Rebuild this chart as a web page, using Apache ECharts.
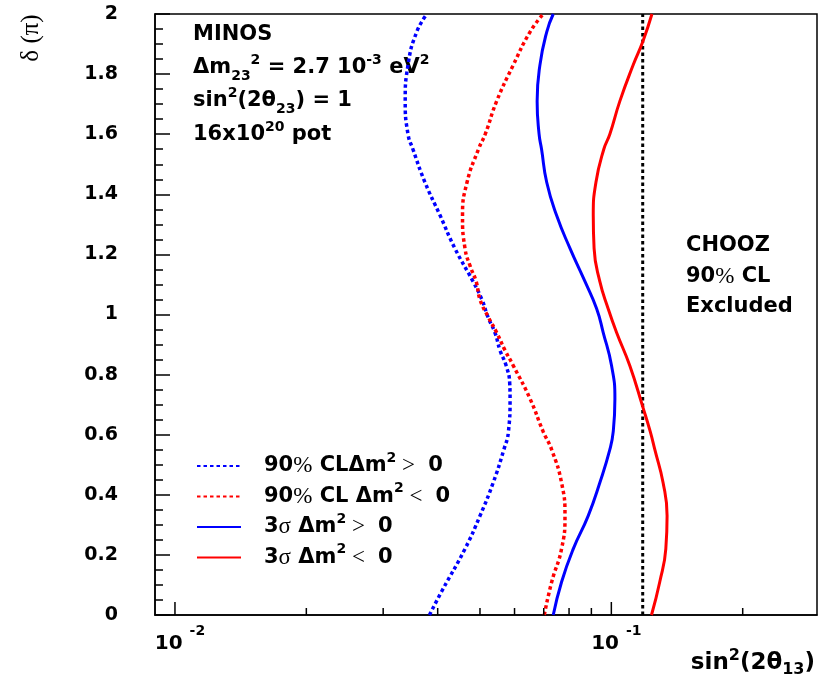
<!DOCTYPE html>
<html>
<head>
<meta charset="utf-8">
<script src="https://cdn.jsdelivr.net/npm/echarts@6/dist/echarts.min.js"></script>
<style>
  html, body { margin: 0; padding: 0; background: #fff; }
  #chart { width: 829px; height: 683px; }
</style>
</head>
<body>
<div id="chart"></div>
<script>
// Contours in the (sin^2(2θ13), δ/π) plane.
// *X arrays hold sin^2(2θ13), *D arrays hold δ in units of π.
const blueDashD = [0.00, 0.08, 0.22, 0.33, 0.44, 0.55, 0.61, 0.72, 0.77, 0.83, 0.88, 0.94, 0.99, 1.05, 1.11, 1.22, 1.33, 1.44, 1.55, 1.60, 1.71, 1.83, 1.94, 2.00];
const blueDashX = [0.0383, 0.0409, 0.0462, 0.0500, 0.0536, 0.0567, 0.0581, 0.0586, 0.0585, 0.0574, 0.0556, 0.0541, 0.0522, 0.0505, 0.0482, 0.0438, 0.0405, 0.0374, 0.0351, 0.0342, 0.0337, 0.0342, 0.0358, 0.0378];

const redDashD = [0.00, 0.11, 0.22, 0.33, 0.44, 0.55, 0.61, 0.72, 0.83, 0.88, 0.94, 0.99, 1.05, 1.11, 1.16, 1.22, 1.33, 1.44, 1.55, 1.60, 1.71, 1.83, 1.94, 2.00];
const redDashX = [0.0702, 0.0730, 0.0769, 0.0783, 0.0769, 0.0730, 0.0698, 0.0651, 0.0596, 0.0571, 0.0546, 0.0523, 0.0500, 0.0490, 0.0475, 0.0462, 0.0456, 0.0467, 0.0496, 0.0514, 0.0546, 0.0596, 0.0651, 0.0698];

const blueSolidD = [0.00, 0.11, 0.22, 0.33, 0.44, 0.55, 0.61, 0.72, 0.83, 0.94, 1.02, 1.11, 1.22, 1.33, 1.44, 1.55, 1.60, 1.71, 1.83, 1.94, 2.00];
const blueSolidX = [0.0736, 0.0769, 0.0818, 0.0885, 0.0941, 0.0992, 0.1010, 0.1019, 0.1001, 0.0958, 0.0925, 0.0870, 0.0804, 0.0749, 0.0711, 0.0692, 0.0683, 0.0676, 0.0686, 0.0711, 0.0736];

const redSolidD = [0.00, 0.11, 0.22, 0.33, 0.44, 0.55, 0.61, 0.69, 0.83, 0.94, 1.02, 1.11, 1.22, 1.33, 1.44, 1.55, 1.60, 1.71, 1.83, 1.91, 2.00];
const redSolidX = [0.1236, 0.1291, 0.1333, 0.1342, 0.1314, 0.1258, 0.1228, 0.1182, 0.1102, 0.1028, 0.0983, 0.0941, 0.0913, 0.0909, 0.0922, 0.0961, 0.0992, 0.1046, 0.1122, 0.1182, 0.1239];

// CHOOZ 90% CL limit
const choozX = [0.118, 0.118];
const choozD = [0, 2];

// Log-axis tick marks
const xMajorTicks = [0.01, 0.1];
const xMinorTicks = [0.02, 0.03, 0.04, 0.05, 0.06, 0.07, 0.08, 0.09, 0.2];

const seriesNames = ['90% CL Δm² > 0', '90% CL Δm² < 0', '3σ Δm² > 0', '3σ Δm² < 0'];

const SANS = 'DejaVu Sans';
const SERIF = 'Liberation Serif';

function richSet(size) {
  return {
    n: { fontFamily: SANS, fontWeight: 'bold', fontSize: size, lineHeight: 30, color: '#000' },
    lead: { fontFamily: SANS, fontWeight: 'bold', fontSize: size, lineHeight: 30, color: '#000', padding: [0, 0, 0, 18] },
    t: { fontFamily: SERIF, fontWeight: 'normal', fontSize: size + 2, lineHeight: 30, color: '#000' },
    sup: { fontFamily: SANS, fontWeight: 'bold', fontSize: Math.round(size * 0.68), verticalAlign: 'top', color: '#000' },
    sub: { fontFamily: SANS, fontWeight: 'bold', fontSize: Math.round(size * 0.68), verticalAlign: 'bottom', color: '#000' }
  };
}

const legendText = {
  '90% CL Δm² > 0': '{lead|90}{t|%}{n| CLΔm}{sup|2}{t| > }{n| 0}',
  '90% CL Δm² < 0': '{lead|90}{t|%}{n| CL Δm}{sup|2}{t| < }{n| 0}',
  '3σ Δm² > 0': '{lead|3}{t|σ}{n| Δm}{sup|2}{t| > }{n| 0}',
  '3σ Δm² < 0': '{lead|3}{t|σ}{n| Δm}{sup|2}{t| < }{n| 0}'
};

function curve(name, xs, ds, color, dashed) {
  return {
    type: 'line',
    name: name,
    data: xs.map((x, i) => [x, ds[i]]),
    smooth: 0.5,
    symbol: 'none',
    lineStyle: { color: color, width: dashed ? 3.5 : 3, type: dashed ? [3.5, 3] : 'solid' },
    itemStyle: { color: color },
    z: 3
  };
}

const chart = echarts.init(document.getElementById('chart'), null, { renderer: 'canvas' });

function textItem(x, y, text, size, align) {
  return {
    type: 'text',
    x: x, y: y,
    style: {
      text: text,
      rich: richSet(size),
      align: align || 'left',
      verticalAlign: 'middle',
      fontFamily: SANS, fontWeight: 'bold', fontSize: size, fill: '#000'
    }
  };
}

chart.setOption({
  animation: false,
  backgroundColor: '#fff',
  grid: {
    left: 155, right: 12, top: 14, bottom: 68,
    show: true, borderColor: '#000', borderWidth: 1.5, backgroundColor: 'transparent',
    containLabel: false, outerBoundsMode: 'none'
  },
  xAxis: {
    type: 'log',
    logBase: 10,
    min: 0.009,
    max: 0.296,
    axisLine: { show: true, lineStyle: { color: '#000', width: 1.5 } },
    axisTick: { show: false },
    minorTick: { show: false },
    splitLine: { show: false },
    axisLabel: {
      margin: 9,
      showMinLabel: false,
      showMaxLabel: false,
      formatter: function (v) {
        const e = Math.log10(v);
        if (Math.abs(e - Math.round(e)) > 1e-6) return '';
        return '{b|10}{e|' + Math.round(e) + '}';
      },
      rich: {
        b: { fontFamily: SANS, fontWeight: 'bold', fontSize: 20, lineHeight: 30, verticalAlign: 'bottom', color: '#000', padding: [0, 0, 0, 10] },
        e: { fontFamily: SANS, fontWeight: 'bold', fontSize: 14, verticalAlign: 'top', color: '#000', padding: [0, 0, 0, 7] }
      }
    }
  },
  yAxis: {
    type: 'value',
    min: 0,
    max: 2,
    interval: 0.2,
    axisLine: { show: true, lineStyle: { color: '#000', width: 1.5 } },
    axisTick: { show: true, inside: true, length: 15, lineStyle: { color: '#000', width: 1.5 } },
    minorTick: { show: true, splitNumber: 4, length: 8, lineStyle: { color: '#000', width: 1.5 } },
    splitLine: { show: false },
    axisLabel: {
      margin: 37,
      fontFamily: SANS, fontWeight: 'bold', fontSize: 19, color: '#000',
      formatter: function (v) { return String(Math.round(v * 10) / 10); }
    }
  },
  legend: {
    orient: 'vertical',
    left: 196,
    top: 451,
    itemWidth: 44,
    itemHeight: 14,
    itemGap: 4,
    padding: 0,
    itemStyle: { opacity: 0 },
    data: seriesNames,
    formatter: function (name) { return legendText[name]; },
    textStyle: { rich: richSet(21) }
  },
  series: [
    curve(seriesNames[0], blueDashX, blueDashD, '#0000ff', true),
    curve(seriesNames[1], redDashX, redDashD, '#ff0000', true),
    curve(seriesNames[2], blueSolidX, blueSolidD, '#0000ff', false),
    curve(seriesNames[3], redSolidX, redSolidD, '#ff0000', false),
    {
      type: 'line',
      name: 'CHOOZ 90% CL',
      data: choozX.map((x, i) => [x, choozD[i]]),
      symbol: 'none',
      lineStyle: { color: '#000', width: 3, type: [3.5, 3] },
      z: 2
    },
    {
      type: 'custom',
      name: 'x ticks',
      silent: true,
      clip: false,
      z: 6,
      data: xMajorTicks.map(v => [v, 0, 1]).concat(xMinorTicks.map(v => [v, 0, 0])),
      renderItem: function (params, api) {
        const p = api.coord([api.value(0), 0]);
        const len = api.value(2) ? 13 : 7;
        return {
          type: 'line',
          shape: { x1: p[0], y1: p[1], x2: p[0], y2: p[1] - len },
          style: { stroke: '#000', lineWidth: 1.5 }
        };
      }
    }
  ],
  graphic: [
    textItem(193, 35, '{n|MINOS}', 21),
    textItem(193, 68, '{n|Δm}{sub|23}{sup|2}{n| = 2.7 10}{sup|-3}{n| eV}{sup|2}', 21),
    textItem(193, 101, '{n|sin}{sup|2}{n|(2θ}{sub|23}{n|) = 1}', 21),
    textItem(193, 135, '{n|16x10}{sup|20}{n| pot}', 21),
    textItem(686, 246, '{n|CHOOZ}', 21),
    textItem(686, 277, '{n|90}{t|%}{n| CL}', 21),
    textItem(686, 307, '{n|Excluded}', 21),
    textItem(815, 663, '{n|sin}{sup|2}{n|(2θ}{sub|13}{n|)}', 23, 'right'),
    {
      type: 'text',
      x: 31, y: 38,
      rotation: Math.PI / 2,
      style: {
        text: 'δ (π)',
        align: 'center', verticalAlign: 'middle',
        fontFamily: SERIF, fontSize: 25, fill: '#000'
      }
    }
  ]
});
</script>
</body>
</html>
